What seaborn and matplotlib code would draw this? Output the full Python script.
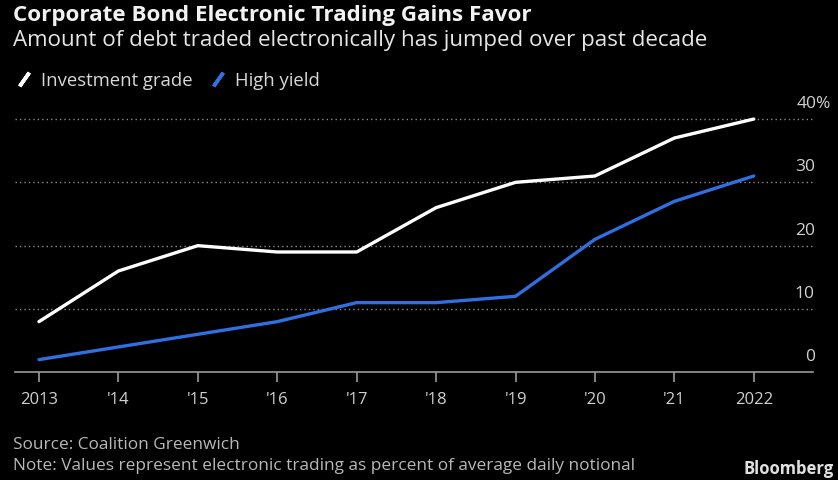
import matplotlib
matplotlib.use("Agg")
import matplotlib.pyplot as plt
from matplotlib.lines import Line2D
import seaborn as sns
import pandas as pd

# data
years = [2013, 2014, 2015, 2016, 2017, 2018, 2019, 2020, 2021, 2022]
year_labels = ["2013", "'14", "'15", "'16", "'17", "'18", "'19", "'20", "'21", "2022"]
investment_grade = [8, 16, 20, 19, 19, 26, 30, 31, 37, 40]
high_yield = [2, 4, 6, 8, 11, 11, 12, 21, 27, 31]
y_ticks = [0, 10, 20, 30, 40]
y_labels = ["0", "10", "20", "30", "40%"]
series_names = ["Investment grade", "High yield"]
series_colors = ["#ffffff", "#2f6fe0"]

df = pd.DataFrame({
    "year": years * 2,
    "value": investment_grade + high_yield,
    "series": [series_names[0]] * len(years) + [series_names[1]] * len(years),
})

sns.set_theme(style="dark")
plt.rcParams["font.family"] = ["Open Sans", "DejaVu Sans"]

BG = "#000000"
TXT = "#d0d0d0"
fig = plt.figure(figsize=(8.38, 4.80), dpi=100, facecolor=BG)
ax = fig.add_axes([0.0179, 0.2244, 0.952, 0.554])
ax.set_facecolor(BG)

sns.lineplot(data=df, x="year", y="value", hue="series", palette=dict(zip(series_names, series_colors)),
             linewidth=2.4, ax=ax, legend=False, clip_on=False)

ax.set_xlim(2012.698, 2022.743)
ax.set_ylim(0, 42)

# dotted gridlines and baseline
for t in y_ticks[1:]:
    ax.axhline(t, color="#8a8a8a", linestyle=(0, (1, 2.2)), linewidth=1.0, zorder=0)
for s in ["top", "right", "left"]:
    ax.spines[s].set_visible(False)
ax.spines["bottom"].set_color("#9a9a9a")
ax.spines["bottom"].set_linewidth(1.2)
ax.grid(False)

ax.set_xticks(years)
ax.set_xticklabels(year_labels, color=TXT, fontsize=12)
ax.tick_params(axis="x", bottom=True, length=7, width=1.2, color="#9a9a9a", pad=7)
ax.set_yticks([])
ax.set_xlabel("")
ax.set_ylabel("")

# y labels sit above gridlines on the right, the "%" hangs past the numbers
for t, lab in zip(y_ticks, y_labels):
    dx = 13 if lab.endswith("%") else 1.5
    ax.annotate(lab, xy=(1.0, t), xycoords=("axes fraction", "data"),
                xytext=(dx, 5), textcoords="offset points",
                ha="right", va="bottom", color=TXT, fontsize=12.5)

# titles
fig.text(0.0155, 0.99, "Corporate Bond Electronic Trading Gains Favor", color="#f2f2f2",
         fontsize=16.1, fontweight="bold", ha="left", va="top")
fig.text(0.0155, 0.937, "Amount of debt traded electronically has jumped over past decade", color="#e6e6e6",
         fontsize=16.1, ha="left", va="top")

# legend with slash icons
handles = [Line2D([], [], color=c, marker=(2, 2, -35), markersize=12, markeredgewidth=2.6,
                  linestyle="none") for c in series_colors]
fig.legend(handles, series_names, loc="upper left", bbox_to_anchor=(-0.002, 0.885), ncol=2,
           frameon=False, fontsize=13.3, labelcolor="#d8d8d8", handlelength=1.0,
           handletextpad=0.4, columnspacing=0.9)

# footnotes
fig.text(0.0155, 0.072, "Source: Coalition Greenwich", color="#b8b8b8", fontsize=12.4, ha="left", va="center")
fig.text(0.0155, 0.029, "Note: Values represent electronic trading as percent of average daily notional",
         color="#b8b8b8", fontsize=12.4, ha="left", va="center")
fig.text(0.995, 0.004, "Bloomberg", color="#e0e0e0", fontsize=12, fontweight="bold", ha="right", va="bottom")

fig.savefig("out.png", dpi=100, facecolor=BG)
